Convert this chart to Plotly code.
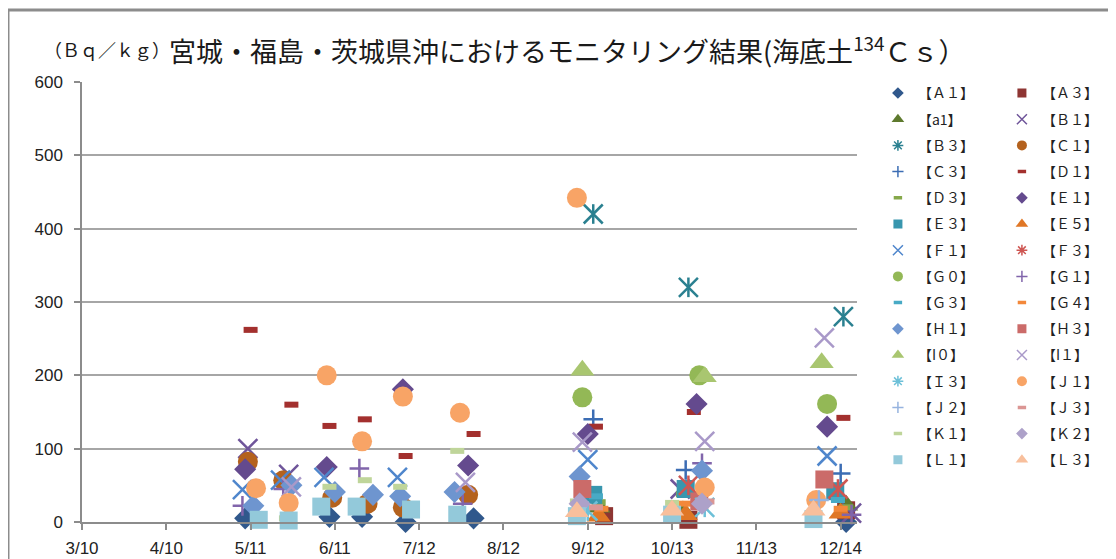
import plotly.graph_objects as go

# ---------------- axis ticks ----------------
x_tick_dates = ["2011-03-10", "2011-04-10", "2011-05-11", "2011-06-11", "2011-07-12",
                "2011-08-12", "2011-09-12", "2011-10-13", "2011-11-13", "2011-12-14"]
x_tick_labels = ["3/10", "4/10", "5/11", "6/11", "7/12", "8/12", "9/12", "10/13", "11/13", "12/14"]
y_tick_vals = [0, 100, 200, 300, 400, 500, 600]

# ---------------- series ----------------
series_labels = ["【Ａ１】", "【Ａ３】", "【a1】", "【Ｂ１】", "【Ｂ３】", "【Ｃ１】", "【Ｃ３】", "【Ｄ１】",
                 "【Ｄ３】", "【Ｅ１】", "【Ｅ３】", "【Ｅ５】", "【Ｆ１】", "【Ｆ３】", "【Ｇ０】", "【Ｇ１】",
                 "【Ｇ３】", "【Ｇ４】", "【Ｈ１】", "【Ｈ３】", "【I０】", "【I１】", "【Ｉ３】", "【Ｊ１】",
                 "【Ｊ２】", "【Ｊ３】", "【Ｋ１】", "【Ｋ２】", "【Ｌ１】", "【Ｌ３】"]

A1_dates = ["2011-05-09", "2011-06-09", "2011-06-21", "2011-07-07", "2011-08-01", "2011-12-16"]
A1_vals = [5, 7, 7, 0, 5, 0]
A3_dates = ["2011-09-18", "2011-10-19", "2011-12-16"]
A3_vals = [8, 3, 16]
a1_dates = ["2011-09-16", "2011-10-17", "2011-12-16"]
a1_vals = [20, 15, 23]
B1_dates = ["2011-05-10", "2011-05-25", "2011-10-16", "2011-12-18"]
B1_vals = [100, 65, 45, 12]
B3_dates = ["2011-09-14", "2011-10-19", "2011-12-15"]
B3_vals = [420, 320, 280]
C1_dates = ["2011-05-10", "2011-05-23", "2011-06-10", "2011-06-23", "2011-07-06", "2011-07-30"]
C1_vals = [82, 57, 33, 25, 20, 37]
C3_dates = ["2011-09-14", "2011-10-18", "2011-12-14"]
C3_vals = [140, 71, 66]
D1_dates = ["2011-05-11", "2011-05-26", "2011-06-09", "2011-06-22", "2011-07-07", "2011-08-01",
            "2011-09-15", "2011-10-21", "2011-12-15"]
D1_vals = [262, 160, 131, 140, 90, 120, 130, 150, 142]
D3_dates = ["2011-09-16", "2011-10-17", "2011-12-16"]
D3_vals = [27, 38, 20]
E1_dates = ["2011-05-09", "2011-06-08", "2011-07-06", "2011-07-30", "2011-09-12", "2011-10-22", "2011-12-09"]
E1_vals = [72, 75, 181, 77, 120, 161, 130]
E3_dates = ["2011-09-14", "2011-10-18", "2011-12-12"]
E3_vals = [37, 45, 42]
E5_dates = ["2011-09-16", "2011-10-18", "2011-12-14"]
E5_vals = [8, 10, 12]
F1_dates = ["2011-05-08", "2011-05-22", "2011-06-07", "2011-07-04", "2011-09-12", "2011-12-09"]
F1_vals = [44, 57, 61, 61, 85, 90]
F3_dates = ["2011-10-19", "2011-12-13"]
F3_vals = [50, 45]
G0_dates = ["2011-09-10", "2011-10-23", "2011-12-09"]
G0_vals = [170, 200, 161]
G1_dates = ["2011-05-08", "2011-05-23", "2011-06-20", "2011-07-28", "2011-10-24", "2011-12-18"]
G1_vals = [22, 45, 73, 25, 80, 10]
G3_dates = ["2011-09-15", "2011-12-13"]
G3_vals = [35, 30]
G4_dates = ["2011-09-17", "2011-10-18", "2011-12-14"]
G4_vals = [18, 25, 18]
H1_dates = ["2011-05-12", "2011-05-26", "2011-06-11", "2011-06-25", "2011-07-05", "2011-07-25",
            "2011-09-09", "2011-10-24"]
H1_vals = [22, 50, 41, 37, 35, 41, 62, 70]
H3_dates = ["2011-09-10", "2011-10-23", "2011-12-08"]
H3_vals = [45, 28, 58]
I0_dates = ["2011-09-10", "2011-10-25", "2011-12-07"]
I0_vals = [207, 198, 217]
I1_dates = ["2011-05-26", "2011-07-29", "2011-09-10", "2011-10-25", "2011-12-08"]
I1_vals = [48, 54, 109, 110, 251]
I3_dates = ["2011-09-12", "2011-10-25"]
I3_vals = [15, 20]
J1_dates = ["2011-05-13", "2011-05-25", "2011-06-08", "2011-06-21", "2011-07-06", "2011-07-27",
            "2011-09-08", "2011-10-25", "2011-12-05"]
J1_vals = [46, 26, 200, 110, 171, 149, 442, 47, 30]
J2_dates = ["2011-12-06"]
J2_vals = [30]
J3_dates = ["2011-09-15", "2011-10-26"]
J3_vals = [20, 28]
K1_dates = ["2011-05-24", "2011-06-09", "2011-06-22", "2011-07-05", "2011-07-26", "2011-09-08", "2011-10-13"]
K1_vals = [5, 48, 57, 48, 97, 28, 26]
K2_dates = ["2011-09-09", "2011-10-24"]
K2_vals = [25, 25]
L1_dates = ["2011-05-14", "2011-05-25", "2011-06-06", "2011-06-19", "2011-07-09", "2011-07-26",
            "2011-09-08", "2011-10-13", "2011-12-04"]
L1_vals = [3, 2, 21, 21, 17, 10, 8, 10, 4]
L3_dates = ["2011-09-08", "2011-10-13", "2011-12-04"]
L3_vals = [14, 16, 16]

series_data = [
    (A1_dates, A1_vals), (A3_dates, A3_vals), (a1_dates, a1_vals), (B1_dates, B1_vals),
    (B3_dates, B3_vals), (C1_dates, C1_vals), (C3_dates, C3_vals), (D1_dates, D1_vals),
    (D3_dates, D3_vals), (E1_dates, E1_vals), (E3_dates, E3_vals), (E5_dates, E5_vals),
    (F1_dates, F1_vals), (F3_dates, F3_vals), (G0_dates, G0_vals), (G1_dates, G1_vals),
    (G3_dates, G3_vals), (G4_dates, G4_vals), (H1_dates, H1_vals), (H3_dates, H3_vals),
    (I0_dates, I0_vals), (I1_dates, I1_vals), (I3_dates, I3_vals), (J1_dates, J1_vals),
    (J2_dates, J2_vals), (J3_dates, J3_vals), (K1_dates, K1_vals), (K2_dates, K2_vals),
    (L1_dates, L1_vals), (L3_dates, L3_vals),
]

# ---------------- styles ----------------
series_kinds = ["diamond", "square", "triangle", "x", "star", "circle", "plus", "dash",
                "dash", "diamond", "square", "triangle", "x", "star", "circle", "plus",
                "dash", "dash", "diamond", "square", "triangle", "x", "star", "circle",
                "plus", "dash", "dash", "diamond", "square", "triangle"]
series_colors = ["#30588C", "#8E3533", "#5E7A2E", "#6F559A", "#2A8090", "#B4621E", "#3C6DB4", "#A3302E",
                 "#86A84A", "#644A8E", "#3896AE", "#E07726", "#4F86CC", "#CE5652", "#93B856", "#8165AB",
                 "#48AAC5", "#F3883A", "#6E95CF", "#CB6B69", "#A9C670", "#A999C9", "#6DC0D8", "#F8A466",
                 "#96B3DF", "#DB9694", "#BFD59A", "#ADA1C9", "#93C9DA", "#F8BF9C"]

plot_style = {
    "diamond": ("diamond", 17, 0),
    "square": ("square", 18, 0),
    "triangle": ("triangle-up", 21, 0),
    "x": ("x-thin-open", 19, 2.5),
    "plus": ("cross-thin-open", 14, 2.5),
    "circle": ("circle", 20, 0),
    "dash": ("line-ew-open", 10, 6),
}
legend_style = {
    "diamond": ("diamond", 9, 0),
    "square": ("square", 9, 0),
    "triangle": ("triangle-up", 11, 0),
    "x": ("x-thin-open", 10, 1.5),
    "plus": ("cross-thin-open", 8, 1.5),
    "circle": ("circle", 10, 0),
    "dash": ("line-ew-open", 6, 3.5),
    "star": ("asterisk-open", 9, 1.5),
}

FONT_JP = "Noto Sans CJK JP"

fig = go.Figure()


def marker_dict(sym, size, lw, color):
    if lw > 0:
        return dict(symbol=sym, size=size, color=color, line=dict(color=color, width=lw))
    return dict(symbol=sym, size=size, color=color, line=dict(width=0))


for i, (label, (dates, vals)) in enumerate(zip(series_labels, series_data)):
    kind = series_kinds[i]
    color = series_colors[i]
    leg = "legend" if i % 2 == 0 else "legend2"
    if kind == "star":
        parts = [("x-thin-open", 19, 2.5), ("line-ns-open", 14, 2.5)]
    else:
        parts = [plot_style[kind]]
    for sym, size, lw in parts:
        fig.add_trace(go.Scatter(
            x=dates, y=vals, mode="markers", name=label, legendgroup=label, legend=leg,
            showlegend=False, cliponaxis=False,
            marker=marker_dict(sym, size, lw, color),
        ))
    sym, size, lw = legend_style[kind]
    fig.add_trace(go.Scatter(
        x=[None], y=[None], mode="markers", name=label, legendgroup=label, legend=leg,
        showlegend=True, marker=marker_dict(sym, size, lw, color),
    ))

axis_color = "#8C8C8C"
tick_font = dict(family="Liberation Sans", size=17, color="#222222")

# the page places the figure 8 px from the top-left corner of the window
fig.update_layout(
    template="none",
    width=1108, height=551,
    margin=dict(l=74, r=259, t=74, b=37, autoexpand=False),
    paper_bgcolor="white", plot_bgcolor="white",
    font=dict(family=FONT_JP, color="#222222"),
    xaxis=dict(
        type="date", range=["2011-03-10", "2011-12-20"], automargin=False,
        tickmode="array", tickvals=x_tick_dates, ticktext=x_tick_labels,
        ticks="outside", ticklen=6, tickwidth=1.5, tickcolor=axis_color,
        showline=True, linecolor=axis_color, linewidth=1.5,
        showgrid=False, zeroline=False, tickfont=tick_font, ticklabelstandoff=4,
    ),
    yaxis=dict(
        range=[0, 600], tickmode="array", tickvals=y_tick_vals, automargin=False,
        ticks="outside", ticklen=6, tickwidth=1.5, tickcolor=axis_color,
        showline=True, linecolor=axis_color, linewidth=1.5,
        showgrid=True, gridcolor="#A6A6A6", gridwidth=1.5, zeroline=False,
        tickfont=tick_font, ticklabelstandoff=8,
    ),
)

legend_common = dict(
    y=1.0105, yanchor="top",
    font=dict(family=FONT_JP, size=14, color="#222222"),
    itemwidth=30, tracegroupgap=5, bgcolor="rgba(0,0,0,0)", itemclick=False,
    itemdoubleclick=False,
)
try:
    fig.update_layout(legend=dict(x=1.027, xanchor="left", maxheight=1000, **legend_common),
                      legend2=dict(x=1.187, xanchor="left", maxheight=1000, **legend_common))
except (ValueError, TypeError):
    legend_common["y"] = 1.0
    fig.update_layout(legend=dict(x=1.027, xanchor="left", **legend_common),
                      legend2=dict(x=1.187, xanchor="left", **legend_common))

# unit label and title
fig.add_annotation(
    xref="paper", yref="paper", x=-0.052, y=1.075, xanchor="left", yanchor="middle",
    text="（Ｂｑ／ｋｇ）", showarrow=False,
    font=dict(family=FONT_JP, size=18, color="#1A1A1A"),
)
fig.add_annotation(
    xref="paper", yref="paper", x=0.11, y=1.075, xanchor="left", yanchor="middle",
    text="宮城・福島・茨城県沖におけるモニタリング結果(海底土<sup>134</sup>Ｃｓ）", showarrow=False,
    font=dict(family=FONT_JP, size=27, color="#1A1A1A"),
)

# chart-area frame (top and left edges visible)
frame = dict(color="#8C8C8C", width=3)
fig.add_shape(type="line", xref="paper", yref="paper", x0=-0.0955, x1=1.34, y0=1.1636, y1=1.1636, line=frame)
fig.add_shape(type="line", xref="paper", yref="paper", x0=-0.0955, x1=-0.0955, y0=1.1636, y1=-0.09, line=frame)

fig.write_html("out.html")
